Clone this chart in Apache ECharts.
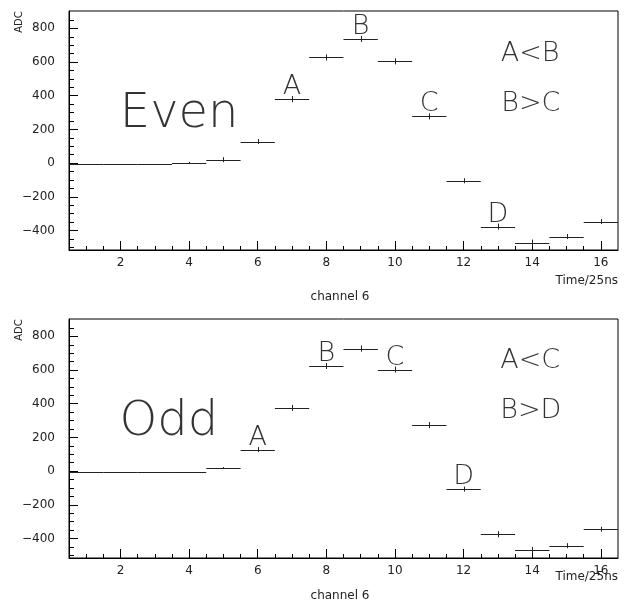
<!DOCTYPE html>
<html>
<head>
<meta charset="utf-8">
<script src="https://cdn.jsdelivr.net/npm/echarts@6/dist/echarts.min.js"></script>
<style>
html, body { margin: 0; padding: 0; background: #fff; }
#chart { width: 625px; height: 612px; }
</style>
</head>
<body>
<div id="chart"></div>
<script>
// time slices (x) and ADC readings for channel 6
const channels = [1, 2, 3, 4, 5, 6, 7, 8, 9, 10, 11, 12, 13, 14, 15, 16]
const evenAdc = [-3, -3, -3, 3, 20, 128, 380, 627, 737, 604, 277, -105, -377, -472, -436, -347]
const evenErr = [0, 0, 0, 4, 15, 15, 18, 18, 18, 18, 18, 15, 18, 18, 15, 15]
const oddAdc = [-4, -4, -4, -4, 20, 128, 375, 624, 727, 603, 273, -107, -375, -468, -443, -345]
const oddErr = [0, 0, 0, 0, 4, 15, 18, 18, 18, 18, 18, 15, 18, 18, 15, 15]
// letters written over some bins
const evenTags = [[7, 'A'], [9, 'B'], [11, 'C'], [13, 'D']]
const oddTags = [[6, 'A'], [8, 'B'], [10, 'C'], [12, 'D']]
// free text notes: anchor [x, adc], text, font size
const evenNotes = [[3.71, 155, 'Even', 48], [13.94, 576, 'A<B', 27], [13.96, 280, 'B>C', 27]]
const oddNotes = [[3.41, 155, 'Odd', 48], [13.94, 582, 'A<C', 27], [13.96, 285, 'B>D', 27]]
// tick positions
const xMajor = [2, 4, 6, 8, 10, 12, 14, 16]
const xMinor = [1, 1.5, 2, 2.5, 3, 3.5, 4, 4.5, 5, 5.5, 6, 6.5, 7, 7.5, 8, 8.5, 9, 9.5, 10, 10.5, 11, 11.5, 12, 12.5, 13, 13.5, 14, 14.5, 15, 15.5, 16]
const yMajor = [-400, -200, 0, 200, 400, 600, 800]
const yMinor = [-500, -450, -400, -350, -300, -250, -200, -150, -100, -50, 0, 50, 100, 150, 200, 250, 300, 350, 400, 450, 500, 550, 600, 650, 700, 750, 800, 850]

const FONT = 'DejaVu Sans'
const ink = '#222'

const histBar = (params, api) => {
  const x = api.value(0), y = api.value(1), e = api.value(2)
  const a = api.coord([x - 0.5, y])
  const b = api.coord([x + 0.5, y])
  const lo = api.coord([x, y - e])
  const hi = api.coord([x, y + e])
  const yy = Math.round(a[1]) + 0.5
  const xx = Math.round(lo[0]) + 0.5
  const kids = [{ type: 'line', shape: { x1: a[0], y1: yy, x2: b[0], y2: yy }, style: { stroke: ink, lineWidth: 1 } }]
  if (e > 0) {
    kids.push({ type: 'line', shape: { x1: xx, y1: lo[1], x2: xx, y2: hi[1] }, style: { stroke: ink, lineWidth: 1 } })
  }
  return { type: 'group', children: kids }
}

const xAxes = (g) => [
  {
    type: 'value', gridIndex: g, min: 0.5, max: 16.5, position: 'bottom',
    axisLine: { show: true, onZero: false, lineStyle: { color: '#000' } },
    axisTick: { show: true, inside: true, length: 9, customValues: xMajor, lineStyle: { color: '#000' } },
    axisLabel: { customValues: xMajor, margin: 7, color: '#222', fontSize: 12, fontFamily: FONT },
    splitLine: { show: false }
  },
  {
    type: 'value', gridIndex: g, min: 0.5, max: 16.5, position: 'bottom',
    axisLine: { show: false, onZero: false },
    axisTick: { show: true, inside: true, length: 4, customValues: xMinor, lineStyle: { color: '#000' } },
    axisLabel: { show: false },
    splitLine: { show: false }
  }
]

const yAxes = (g) => [
  {
    type: 'value', gridIndex: g, min: -516, max: 903, position: 'left',
    axisLine: { show: true, onZero: false, lineStyle: { color: '#000' } },
    axisTick: { show: true, inside: true, length: 9, customValues: yMajor, lineStyle: { color: '#000' } },
    axisLabel: {
      customValues: yMajor, margin: 14, color: '#222', fontSize: 12, fontFamily: FONT,
      formatter: (v) => String(v).replace('-', '\u2212')
    },
    splitLine: { show: false }
  },
  {
    type: 'value', gridIndex: g, min: -516, max: 903, position: 'left',
    axisLine: { show: false, onZero: false },
    axisTick: { show: true, inside: true, length: 5, customValues: yMinor, lineStyle: { color: '#000' } },
    axisLabel: { show: false },
    splitLine: { show: false }
  }
]

const barData = (adc, err) => channels.map((c, i) => [c, adc[i], err[i]])
const tagData = (tags, adc) => tags.map((t) => ({ value: [t[0], adc[channels.indexOf(t[0])], t[1]] }))
const noteData = (list) => list.map((n) => ({ value: [n[0], n[1], n[2]], label: { fontSize: n[3] } }))

// text sitting on top of an invisible point (same path for tags and notes)
const textSeries = (data, ax) => ({
  type: 'scatter', xAxisIndex: ax, yAxisIndex: ax,
  data: data,
  symbolSize: 1,
  silent: true,
  itemStyle: { color: 'rgba(0,0,0,0)' },
  label: {
    show: true, position: 'top', distance: -2,
    formatter: (p) => p.value[2],
    fontSize: 27, fontFamily: FONT, fontWeight: 200, color: '#000'
  }
})

const small = (text, x, y, align, rot) => ({
  type: 'text', x: x, y: y, rotation: rot || 0,
  style: { text: text, fontSize: rot ? 10 : 12, fontFamily: FONT, fill: '#222', align: align, verticalAlign: 'middle' }
})

const chart = echarts.init(document.getElementById('chart'))
chart.setOption({
  animation: false,
  grid: [
    { left: 69, top: 11, width: 549, height: 239, show: true, borderColor: '#000', borderWidth: 1 },
    { left: 69, top: 319, width: 549, height: 239, show: true, borderColor: '#000', borderWidth: 1 }
  ],
  xAxis: [...xAxes(0), ...xAxes(1)],
  yAxis: [...yAxes(0), ...yAxes(1)],
  series: [
    { type: 'custom', xAxisIndex: 0, yAxisIndex: 0, renderItem: histBar, data: barData(evenAdc, evenErr) },
    { type: 'custom', xAxisIndex: 2, yAxisIndex: 2, renderItem: histBar, data: barData(oddAdc, oddErr) },
    textSeries(tagData(evenTags, evenAdc), 0),
    textSeries(tagData(oddTags, oddAdc), 2),
    textSeries(noteData(evenNotes), 0),
    textSeries(noteData(oddNotes), 2)
  ],
  graphic: [
    small('ADC', 19, 22, 'center', Math.PI / 2),
    small('ADC', 19, 330, 'center', Math.PI / 2),
    small('Time/25ns', 618, 281, 'right'),
    small('Time/25ns', 618, 577, 'right'),
    small('channel 6', 340, 297, 'center'),
    small('channel 6', 340, 596, 'center')
  ]
})
</script>
</body>
</html>
